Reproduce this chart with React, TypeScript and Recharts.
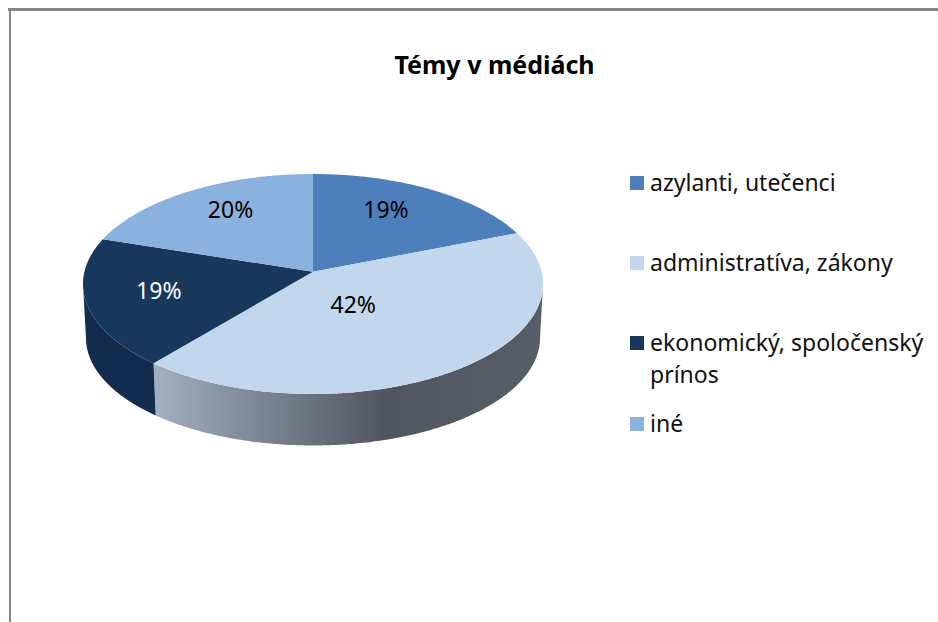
import React from 'react';
import { PieChart, Pie, Cell, Legend } from 'recharts';

const categories = ['azylanti, utečenci', 'administratíva, zákony', 'ekonomický, spoločenský prínos', 'iné'];
const shares = [19, 42, 19, 20];
const title = 'Témy v médiách';

const chartData = categories.map((name, i) => ({ name, value: shares[i] }));

const COLORS = ['#4d7fbb', '#c2d7ee', '#17375d', '#8bb1df'];
const WALLS = ['#33557d', 'url(#wallGrad)', '#132c4d', '#5d7896'];
const LABEL_COLORS = ['#000', '#000', '#fff', '#000'];
const LABEL_NUDGE = [[0, -11.6], [-45, -23], [-20, 0], [-6, -13]];
const FONT = '"Noto Sans", sans-serif';

const TILT = 110 / 230;
const PERSP = -0.112;
const DEPTH = 54;

// Perspective projection of a point on the pie disc (angle in the library's degrees, f = radial fraction)
function project(cx: number, cy: number, r: number, angle: number, f = 1) {
  const rad = (angle * Math.PI) / 180;
  const u = Math.cos(rad) * f;
  const v = -Math.sin(rad) * f;
  const den = 1 + PERSP * v;
  const ry = r * TILT;
  const dx = (r * Math.sqrt(1 - PERSP * PERSP) * u) / den;
  const dy = (ry * v + ry * PERSP) / den;
  return { x: cx + dx, y: cy + dy, dx, dy };
}

function Slice3D(props: any) {
  const { cx, cy, outerRadius: r, startAngle, endAngle, index } = props;
  const idx = index ?? 0;
  const fill = COLORS[idx];
  const steps = Math.max(8, Math.ceil(Math.abs(endAngle - startAngle) * 2));
  const arc: { x: number; y: number; dx: number; dy: number }[] = [];
  for (let i = 0; i <= steps; i++) {
    arc.push(project(cx, cy, r, startAngle + ((endAngle - startAngle) * i) / steps));
  }
  const apex = project(cx, cy, r, 0, 0);
  const top =
    `M${apex.x},${apex.y} ` + arc.map((p) => `L${p.x},${p.y}`).join(' ') + ' Z';
  const front = arc.filter((p) => p.dy >= 0);
  let wall = '';
  if (front.length > 1) {
    const upper = front.map((p) => `${p.x},${p.y}`);
    const lower = [...front]
      .reverse()
      .map((p) => `${cx + p.dx * 0.987},${cy + p.dy * 0.977 + DEPTH}`);
    wall = `M${upper.join(' L')} L${lower.join(' L')} Z`;
  }
  return (
    <g>
      <defs>
        <linearGradient id="wallGrad" gradientUnits="userSpaceOnUse" x1={cx - 163} x2={cx + 230} y1={0} y2={0}>
          <stop offset="0" stopColor="#a5b2c2" />
          <stop offset="0.25" stopColor="#808a99" />
          <stop offset="0.6" stopColor="#505660" />
          <stop offset="1" stopColor="#575e68" />
        </linearGradient>
      </defs>
      {wall && <path d={wall} fill={WALLS[idx]} stroke="none" />}
      <path d={top} fill={fill} stroke="none" />
    </g>
  );
}

function renderLabel(props: any) {
  const { cx, cy, outerRadius, midAngle, index, value } = props;
  const p = project(cx, cy, outerRadius, midAngle, 0.6);
  const [nx, ny] = LABEL_NUDGE[index];
  return (
    <text
      x={p.x + nx}
      y={p.y + ny}
      textAnchor="middle"
      dominantBaseline="central"
      fontFamily={FONT}
      fontSize={23}
      fill={LABEL_COLORS[index]}
    >
      {`${value}%`}
    </text>
  );
}

function LegendBox(props: any) {
  const items = props.payload ?? [];
  const gaps = [48, 48, 17, 0];
  return (
    <div style={{ fontFamily: FONT, fontSize: 23, lineHeight: '32px', color: '#111' }}>
      {items.map((it: any, i: number) => (
        <div key={i} style={{ position: 'relative', paddingLeft: 20, marginBottom: gaps[i] }}>
          <span
            style={{
              position: 'absolute',
              left: 0,
              top: 10,
              width: 14,
              height: 14,
              background: COLORS[i],
            }}
          />
          {it.value}
        </div>
      ))}
    </div>
  );
}

export default function App() {
  return (
    <div style={{ position: 'absolute', left: 0, top: 0, width: 938, height: 622, overflow: 'hidden', background: '#fff' }}>
      <div style={{ position: 'absolute', left: 8, top: 8, right: 0, height: 3, background: '#868686' }} />
      <div style={{ position: 'absolute', left: 8.5, top: 8, bottom: 0, width: 2.5, background: '#868686' }} />
      <PieChart
        width={938}
        height={622}
        margin={{ top: 0, right: 0, bottom: 0, left: 0 }}
        style={{ position: 'absolute', left: 0, top: 0 }}
      >
        <text x={494.5} y={64} textAnchor="middle" dominantBaseline="central" fontFamily={FONT} fontSize={25} fontWeight={700} fill="#000">
          {title}
        </text>
        <Pie
          data={chartData}
          dataKey="value"
          nameKey="name"
          cx={313}
          cy={284}
          outerRadius={230}
          startAngle={90}
          endAngle={-270}
          stroke="none"
          isAnimationActive={false}
          labelLine={false}
          label={renderLabel}
          shape={Slice3D}
        >
          {chartData.map((d, i) => (
            <Cell key={d.name} fill={COLORS[i]} />
          ))}
        </Pie>
        <Legend
          layout="vertical"
          itemSorter={null}
          content={<LegendBox />}
          wrapperStyle={{ position: 'absolute', left: 630, top: 166, width: 300 }}
        />
      </PieChart>
    </div>
  );
}
